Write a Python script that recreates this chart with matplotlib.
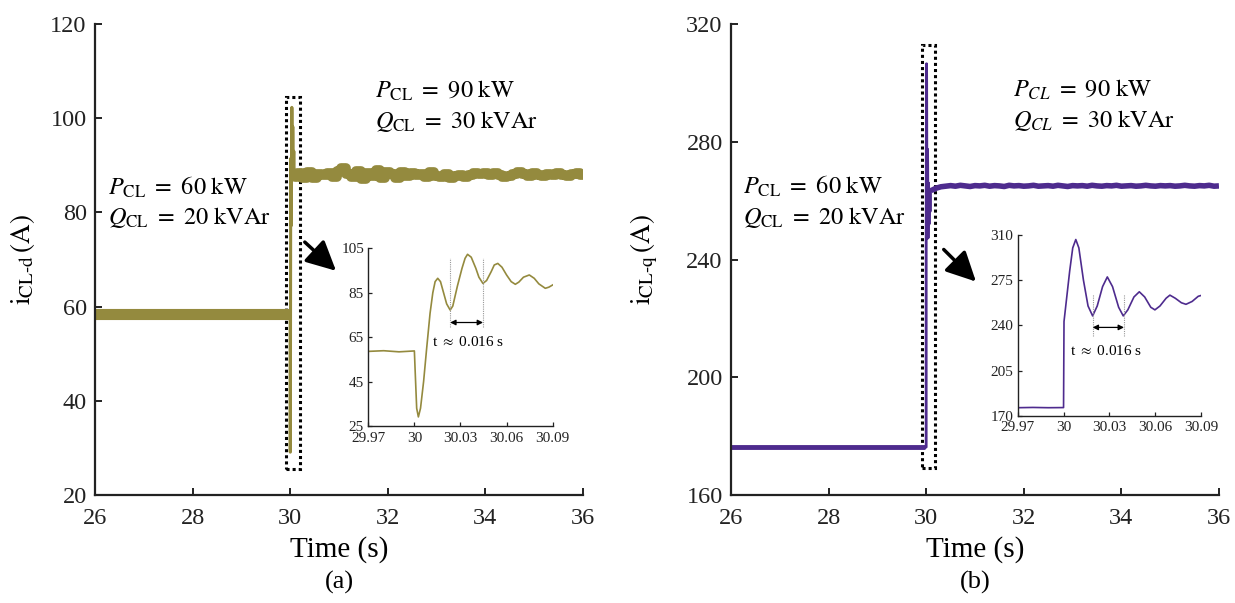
import matplotlib
matplotlib.use('Agg')
import matplotlib.pyplot as plt
import numpy as np
from matplotlib.patches import Rectangle

plt.rcParams['font.family'] = 'serif'
plt.rcParams['font.serif'] = ['Liberation Serif', 'DejaVu Serif']
plt.rcParams['mathtext.fontset'] = 'stix'

# ---------------- data ----------------
# (a) d-axis current
d_pre_t = [26.0, 29.97]
d_pre_v = [58.5, 58.5]

d_tr_t = [29.97, 29.98, 29.99, 30.0, 30.0005, 30.0015, 30.0026, 30.004, 30.006, 30.008,
          30.0102, 30.012, 30.0135, 30.0152, 30.017, 30.019, 30.021, 30.0233, 30.025,
          30.028, 30.031, 30.033, 30.0346, 30.037, 30.040, 30.042, 30.0446, 30.047,
          30.050, 30.052, 30.0543, 30.057, 30.060, 30.063, 30.0657, 30.068, 30.071,
          30.0748, 30.078, 30.081, 30.0852, 30.0875, 30.09]
d_tr_v = [58.6, 58.9, 58.4, 58.8, 50.0, 33.0, 29.1, 33.0, 45.0, 60.0,
          75.7, 85.0, 90.0, 91.5, 90.0, 85.0, 80.0, 77.2, 79.0,
          88.0, 96.0, 100.5, 102.3, 101.0, 96.0, 92.0, 89.2, 90.5,
          94.5, 97.5, 98.2, 96.5, 93.0, 90.0, 88.8, 89.8, 92.0,
          93.0, 91.5, 89.0, 87.0, 87.5, 88.5]

d_post_v = [87.6, 88.3, 87.4, 88.6, 87.2, 88.1, 87.9, 88.4, 87.5, 88.8,
            89.4, 88.2, 87.6, 88.7, 87.0, 88.3, 87.8, 88.9, 87.4, 88.5,
            88.1, 87.3, 88.6, 87.7, 88.4, 87.9, 88.2, 87.5, 88.6, 87.8,
            87.6, 88.1, 87.4, 87.7, 88.0, 87.6, 87.9, 88.3, 88.1, 88.4,
            88.0, 88.3, 87.9, 87.6, 87.8, 88.2, 88.5, 88.1, 87.8, 88.3,
            88.0, 87.7, 88.2, 87.9, 88.4, 88.0, 87.7, 88.1, 88.3, 88.0]

# (b) q-axis current
q_pre_t = [26.0, 29.97]
q_pre_v = [176.3, 176.3]

q_tr_t = [29.97, 29.98, 29.99, 30.0, 30.0003, 30.004, 30.006, 30.008, 30.010, 30.013,
          30.016, 30.019, 30.022, 30.0255, 30.0286, 30.032, 30.036, 30.039, 30.042,
          30.046, 30.0495, 30.053, 30.057, 30.0597, 30.063, 30.067, 30.0695, 30.073,
          30.077, 30.080, 30.084, 30.088, 30.09]
q_tr_v = [176.2, 176.4, 176.2, 176.3, 243.0, 282.0, 300.0, 306.5, 300.0, 275.0,
          255.0, 247.3, 255.0, 270.0, 277.5, 270.0, 254.0, 247.3, 252.0,
          262.0, 266.0, 262.0, 254.0, 252.0, 255.0, 261.0, 263.4, 261.0,
          257.5, 256.3, 258.5, 262.5, 263.2]

q_post_v = [263.4, 264.2, 264.7, 264.9, 265.1, 264.9, 265.2, 265.0, 264.8, 265.1,
            265.0, 265.2, 264.9, 265.1, 265.0, 264.8, 265.2, 265.0, 265.1, 264.9,
            265.0, 265.2, 264.9, 265.0, 265.1, 264.9, 265.2, 265.0, 264.8, 265.1,
            265.0, 265.1, 264.9, 265.2, 265.0, 264.9, 265.1, 265.0, 265.2, 264.9,
            265.0, 265.1, 264.9, 265.0, 265.2, 265.0, 264.9, 265.1, 265.0, 265.1,
            264.9, 265.0, 265.2, 265.0, 264.9, 265.1, 265.0, 265.2, 264.9, 265.0]

main_xticks = [26, 28, 30, 32, 34, 36]
d_yticks = [20, 40, 60, 80, 100, 120]
q_yticks = [160, 200, 240, 280, 320]
inset_xticks = [29.97, 30.0, 30.03, 30.06, 30.09]
inset_xticklabels = ['29.97', '30', '30.03', '30.06', '30.09']
d_inset_yticks = [25, 45, 65, 85, 105]
q_inset_yticks = [170, 205, 240, 275, 310]

OLIVE = '#948A3E'
PURPLE = '#4E2B8E'

# ---------------- figure ----------------
fig = plt.figure(figsize=(12.35, 6.03), dpi=100)

def style_main(ax):
    for s in ['top', 'right']:
        ax.spines[s].set_visible(False)
    for s in ['left', 'bottom']:
        ax.spines[s].set_linewidth(1.6)
        ax.spines[s].set_color('#222222')
    ax.tick_params(direction='in', length=5, width=1.4, labelsize=17.5, colors='#222222')
    ax.tick_params(axis='x', pad=9)
    ax.tick_params(axis='y', pad=6)

def style_inset(ax):
    for s in ['top', 'right']:
        ax.spines[s].set_visible(False)
    for s in ['left', 'bottom']:
        ax.spines[s].set_linewidth(1.0)
        ax.spines[s].set_color('#222222')
    ax.patch.set_alpha(0)
    ax.tick_params(direction='in', length=3, width=0.9, labelsize=11, colors='#222222')
    ax.tick_params(axis='x', pad=4)
    ax.tick_params(axis='y', pad=3)

d_post_t = np.linspace(30.1, 36.0, len(d_post_v))
q_post_t = np.linspace(30.1, 36.0, len(q_post_v))

ann_fs = 17.5

# ---- (a) ----
axL = fig.add_axes([0.0769, 0.1791, 0.3951, 0.7811])
axL.plot(d_pre_t, d_pre_v, color=OLIVE, lw=8, solid_capstyle='butt')
axL.plot(d_tr_t, d_tr_v, color=OLIVE, lw=2.2)
axL.plot(np.concatenate([[d_tr_t[-1]], d_post_t]), np.concatenate([[d_tr_v[-1]], d_post_v]),
         color=OLIVE, lw=7, solid_capstyle='butt', drawstyle='steps-mid')
axL.set_xlim(26, 36)
axL.set_ylim(20, 120)
axL.set_xticks(main_xticks)
axL.set_yticks(d_yticks)
style_main(axL)
axL.set_ylabel(r'$\mathrm{i}_{\text{CL-d}}\,(\mathrm{A})$', fontsize=19.5)
axL.yaxis.set_label_coords(-0.118, 0.5)
axL.add_patch(Rectangle((29.91, 25.5), 0.30, 79.1, fill=False, ls=(0, (1, 1)), lw=2.2,
                        color='k', clip_on=False))
axL.annotate('', xy=(30.94, 67.6), xytext=(30.30, 73.7),
             arrowprops=dict(arrowstyle='-|>,head_length=0.9,head_width=0.45', lw=2.5,
                             color='k', mutation_scale=20, shrinkA=0, shrinkB=0))
axL.text(0.574, 0.858, r'$P_{\mathrm{CL}}\ =\ 90\ \mathrm{kW}$', transform=axL.transAxes,
         fontsize=ann_fs, va='center', ha='left')
axL.text(0.574, 0.792, r'$Q_{\mathrm{CL}}\ =\ 30\ \mathrm{kVAr}$', transform=axL.transAxes,
         fontsize=ann_fs, va='center', ha='left')
axL.text(0.027, 0.654, r'$P_{\mathrm{CL}}\ =\ 60\ \mathrm{kW}$', transform=axL.transAxes,
         fontsize=ann_fs, va='center', ha='left')
axL.text(0.027, 0.590, r'$Q_{\mathrm{CL}}\ =\ 20\ \mathrm{kVAr}$', transform=axL.transAxes,
         fontsize=ann_fs, va='center', ha='left')

insL = fig.add_axes([0.2982, 0.2935, 0.1493, 0.2947])
insL.plot(d_tr_t, d_tr_v, color=OLIVE, lw=1.2)
insL.set_xlim(29.97, 30.09)
insL.set_ylim(25, 105)
insL.set_xticks(inset_xticks)
insL.set_xticklabels(inset_xticklabels)
insL.set_yticks(d_inset_yticks)
style_inset(insL)
for xv in [30.0233, 30.0447]:
    insL.plot([xv, xv], [69.5, 100.5], color='#999999', lw=0.8, ls=(0, (1, 1)))
insL.annotate('', xy=(30.0447, 71.6), xytext=(30.0233, 71.6),
              arrowprops=dict(arrowstyle='<|-|>', lw=0.9, color='k', mutation_scale=8,
                              shrinkA=0, shrinkB=0))
insL.text(30.0347, 63.0, r't $\approx$ 0.016 s', fontsize=11, ha='center', va='center')

# ---- (b) ----
axR = fig.add_axes([0.5919, 0.1791, 0.3951, 0.7811])
axR.plot(q_pre_t, q_pre_v, color=PURPLE, lw=3.5, solid_capstyle='butt')
axR.plot(q_tr_t, q_tr_v, color=PURPLE, lw=2.0)
axR.plot(np.concatenate([[q_tr_t[-1]], q_post_t]), np.concatenate([[q_tr_v[-1]], q_post_v]),
         color=PURPLE, lw=4.0, solid_capstyle='butt')
axR.set_xlim(26, 36)
axR.set_ylim(160, 320)
axR.set_xticks(main_xticks)
axR.set_yticks(q_yticks)
style_main(axR)
axR.set_ylabel(r'$\mathrm{i}_{\text{CL-q}}\,(\mathrm{A})$', fontsize=19.5)
axR.yaxis.set_label_coords(-0.145, 0.5)
axR.add_patch(Rectangle((29.91, 169.3), 0.27, 143.6, fill=False, ls=(0, (1, 1)), lw=2.2,
                        color='k', clip_on=False))
axR.annotate('', xy=(31.02, 232.5), xytext=(30.36, 243.4),
             arrowprops=dict(arrowstyle='-|>,head_length=0.9,head_width=0.45', lw=2.5,
                             color='k', mutation_scale=20, shrinkA=0, shrinkB=0))
axR.text(0.578, 0.860, r'$P_{CL}\ =\ 90\ \mathrm{kW}$', transform=axR.transAxes,
         fontsize=ann_fs, va='center', ha='left')
axR.text(0.578, 0.796, r'$Q_{CL}\ =\ 30\ \mathrm{kVAr}$', transform=axR.transAxes,
         fontsize=ann_fs, va='center', ha='left')
axR.text(0.025, 0.656, r'$P_{\mathrm{CL}}\ =\ 60\ \mathrm{kW}$', transform=axR.transAxes,
         fontsize=ann_fs, va='center', ha='left')
axR.text(0.025, 0.590, r'$Q_{\mathrm{CL}}\ =\ 20\ \mathrm{kVAr}$', transform=axR.transAxes,
         fontsize=ann_fs, va='center', ha='left')

insR = fig.add_axes([0.8240, 0.3106, 0.1487, 0.2997])
insR.plot(q_tr_t, q_tr_v, color=PURPLE, lw=1.2)
insR.set_xlim(29.97, 30.09)
insR.set_ylim(170, 310)
insR.set_xticks(inset_xticks)
insR.set_xticklabels(inset_xticklabels)
insR.set_yticks(q_inset_yticks)
style_inset(insR)
for xv in [30.019, 30.0395]:
    insR.plot([xv, xv], [231.9, 264.4], color='#999999', lw=0.8, ls=(0, (1, 1)))
insR.annotate('', xy=(30.0395, 238.4), xytext=(30.019, 238.4),
              arrowprops=dict(arrowstyle='<|-|>', lw=0.9, color='k', mutation_scale=8,
                              shrinkA=0, shrinkB=0))
insR.text(30.028, 220.4, r't $\approx$ 0.016 s', fontsize=11, ha='center', va='center')

# labels
fig.text(339 / 1235, 1 - 550 / 603, 'Time (s)', fontsize=21, ha='center', va='center')
fig.text(975 / 1235, 1 - 550 / 603, 'Time (s)', fontsize=21, ha='center', va='center')
fig.text(339 / 1235, 1 - 582 / 603, '(a)', fontsize=19, ha='center', va='center')
fig.text(975 / 1235, 1 - 582 / 603, '(b)', fontsize=19, ha='center', va='center')

fig.savefig('out.png', dpi=100)
